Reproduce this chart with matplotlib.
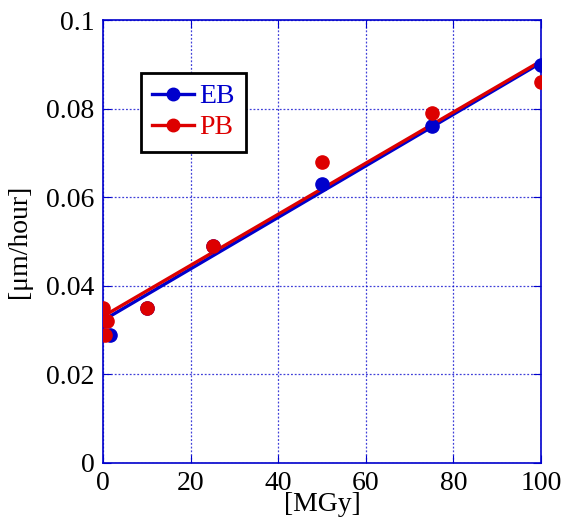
import numpy as np
import matplotlib.pyplot as plt

plt.rcParams['font.family'] = ['Liberation Serif', 'DejaVu Serif']
plt.rcParams['mathtext.fontset'] = 'stix'

# measured growth rate vs dose
eb_x = [0, 1.5, 10, 25, 50, 75, 100]
eb_y = [0.032, 0.029, 0.035, 0.049, 0.063, 0.076, 0.090]
pb_x = [0, 0.5, 1, 10, 25, 50, 75, 100]
pb_y = [0.035, 0.029, 0.032, 0.035, 0.049, 0.068, 0.079, 0.086]

# straight-line fits
fit_x = [0, 100]
eb_fit = [0.0322, 0.0904]
pb_fit = [0.0331, 0.0908]

blue = '#0000cc'
red = '#dd0000'

fig = plt.figure(figsize=(5.69, 5.19), dpi=100)
ax = fig.add_axes([0.181, 0.108, 0.770, 0.853])

ax.plot(fit_x, eb_fit, color=blue, lw=2.4, zorder=3)
ax.plot(fit_x, pb_fit, color=red, lw=2.4, zorder=4)
ax.plot(eb_x, eb_y, 'o', color=blue, ms=9.5, zorder=5)
ax.plot(pb_x, pb_y, 'o', color=red, ms=9.5, zorder=6)

# legend handles
h1, = ax.plot([], [], '-o', color=blue, lw=2.4, ms=9, label='EB')
h2, = ax.plot([], [], '-o', color=red, lw=2.4, ms=9, label='PB')
leg = ax.legend(handles=[h1, h2], loc='upper left', bbox_to_anchor=(0.087, 0.881),
                fontsize=20, frameon=True, fancybox=False, framealpha=1,
                handlelength=1.5, handletextpad=0.2, borderpad=0.4,
                labelspacing=0.2, borderaxespad=0)
leg.get_frame().set_edgecolor('black')
leg.get_frame().set_linewidth(2)
for txt, c in zip(leg.get_texts(), [blue, red]):
    txt.set_color(c)

ax.set_xlim(0, 100)
ax.set_ylim(0, 0.1)
ax.set_xticks([0, 20, 40, 60, 80, 100])
ax.set_yticks([0, 0.02, 0.04, 0.06, 0.08, 0.1])
ax.set_yticklabels(['0', '0.02', '0.04', '0.06', '0.08', '0.1'])
ax.grid(True, color=blue, linestyle=(0, (1.5, 1.5)), lw=0.9, alpha=0.75)
ax.set_axisbelow(True)
for s in ax.spines.values():
    s.set_color(blue)
    s.set_linewidth(1.2)
ax.tick_params(direction='in', color=blue, labelsize=20, length=6,
               top=True, right=True, pad=6)

ax.set_xlabel('[MGy]', fontsize=20, labelpad=-3)
ax.set_ylabel('[μm/hour]', fontsize=20, labelpad=10)

fig.savefig('out.png', dpi=100)
